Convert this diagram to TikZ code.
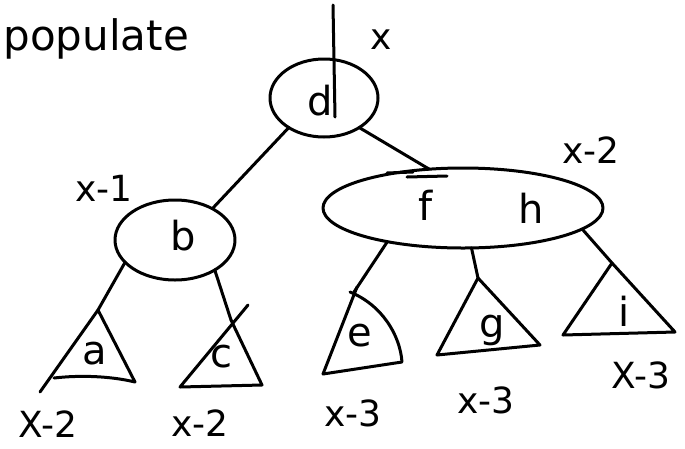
\documentclass[tikz,border=0pt]{standalone}
\usepackage{fontspec}
\setmainfont{DejaVu Sans}
\usetikzlibrary{shapes.geometric}
\begin{document}
\begin{tikzpicture}[x=1pt,y=-1pt,line width=3pt,line cap=round,line join=round,
  oval/.style={draw,ellipse,inner sep=0pt,outer sep=0pt},
  hand/.style={font=\fontsize{36}{36}\selectfont,inner sep=0pt},
  letter/.style={font=\fontsize{40}{40}\selectfont,inner sep=0pt},
  title/.style={font=\fontsize{42}{42}\selectfont,inner sep=0pt,anchor=base west}]
\useasboundingbox (0,0) rectangle (685,448);
% title
\node[title] (ttl) at (2,50) {populate};
% nodes
\node[oval,minimum width=108pt,minimum height=78pt] (d) at (324,98) {};
\node[letter] (dl) at (320,101) {d};
\node[oval,minimum width=120pt,minimum height=80pt] (b) at (175,240) {};
\node[letter] (bl) at (183,236) {b};
\node[oval,minimum width=280pt,minimum height=80pt] (fh) at (463,208) {};
\node[letter] (fl) at (426,205) {f};
\node[letter] (hl) at (531,208) {h};
% triangle apexes
\coordinate (aT) at (98,310);
\coordinate (cT) at (231,320);
\coordinate (eT) at (354,292);
\coordinate (gT) at (478,278);
\coordinate (iT) at (612,263);
% root line
\coordinate (rtop) at (333,5);
\coordinate (rbot) at (335,117);
\draw (rtop) -- (rbot);
% edges
\draw (d.220) -- (b.40);
\draw (d.320) -- (fh.131);
\draw (387,173) -- (413,172);
\draw (407,177) -- (447,176);
\draw (b.204) -- (aT);
\draw (b.323) -- (cT);
\draw (fh.204) -- (eT);
\draw (fh.282) -- (gT);
\draw (fh.350) -- (iT);
% subtrees
\draw (40,392) -- (aT) -- (135,382) .. controls (110,376) and (80,375) .. (54,378);
\draw (248,305) -- (180,387) -- (262,385) -- (cT);
\draw (323,374) -- (357,287);
\draw (323,374) -- (402,362) .. controls (400,335) and (382,305) .. (350,292);
\draw (gT) -- (437,355) -- (540,345) -- cycle;
\draw (iT) -- (563,335) -- (675,332) -- cycle;
\node[letter] (al) at (95,354) {a};
\node[letter] (cl) at (221,357) {c};
\node[letter] (el) at (360,336) {e};
\node[letter] (gl) at (492,330) {g};
\node[letter] (il) at (624,311) {i};
% heights
\node[hand] (hx) at (381,40) {x};
\node[hand] (h1) at (104,188) {x-1};
\node[hand] (h2) at (591,150) {x-2};
\node[hand] (ha) at (48,424) {X-2};
\node[hand] (hc) at (200,423) {x-2};
\node[hand] (he) at (353,413) {x-3};
\node[hand] (hg) at (486,400) {x-3};
\node[hand] (hi) at (641,375) {X-3};
\end{tikzpicture}
\end{document}
